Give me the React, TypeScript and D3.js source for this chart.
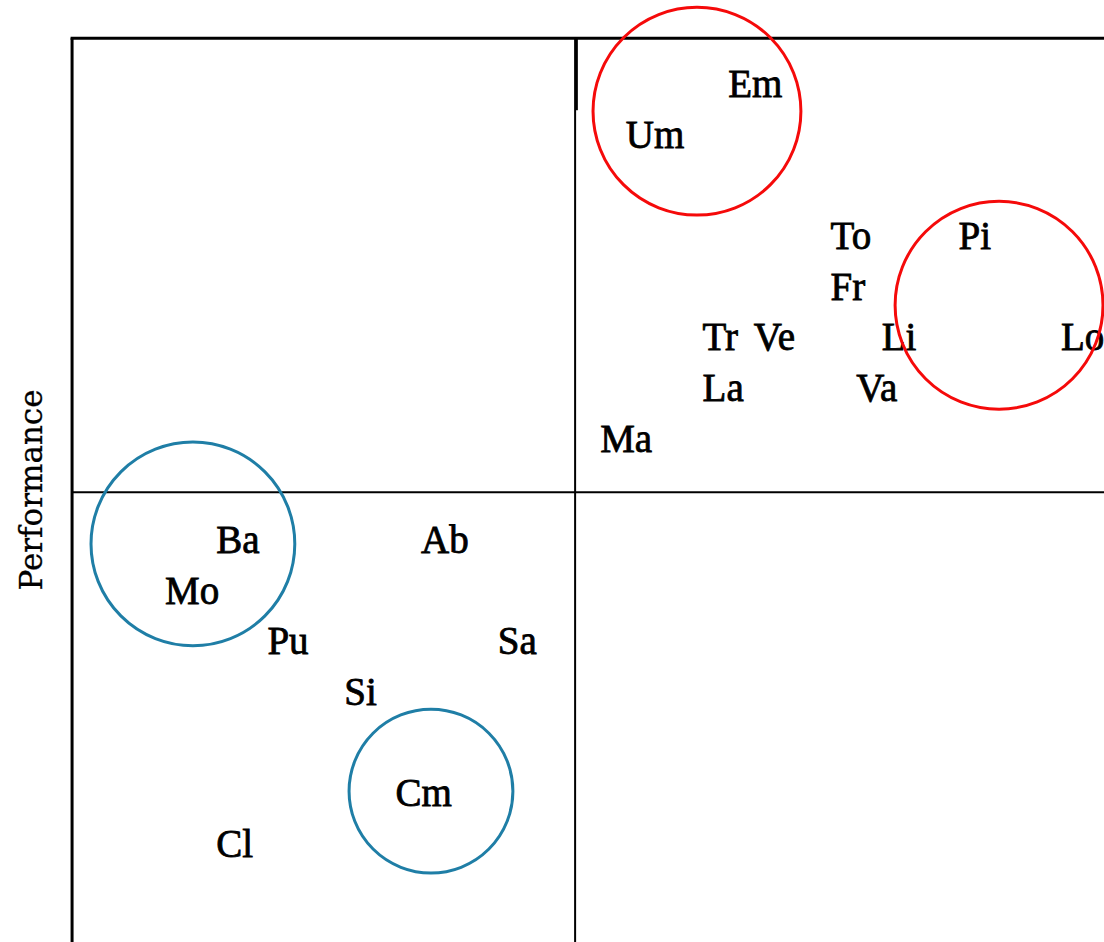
import React from "react";
import * as d3 from "d3";

// label positions: x = dimension score, y = performance score
const labels = ["Em", "Um", "To", "Pi", "Fr", "Tr", "Ve", "Li", "Lo", "La", "Va", "Ma",
  "Ba", "Ab", "Mo", "Pu", "Sa", "Si", "Cm", "Cl"];
const xValues = [22, 18, 26, 31, 26, 21, 23, 28, 35, 21, 27, 17,
  2, 10, 0, 4, 13, 7, 9, 2];
const perfValues = [15, 14, 12, 12, 11, 10, 10, 10, 10, 9, 9, 8,
  6, 6, 5, 4, 4, 3, 1, 0];

// highlighted groups (centre in data units, radius in x units)
const groupX = [20.78, 32.58, 1.09, 10.39];
const groupY = [14.72, 10.89, 6.18, 1.3];
const groupR = [4.06, 4.06, 3.98, 3.2];
const groupKind = ["high", "high", "low", "low"];

// frame / quadrant split
const xMin = -3.63;
const xSplit = 16.02;
const yMax = 16.16;
const ySplit = 7.2;

const width = 1104;
const height = 942;

export default function App() {
  const x = d3.scaleLinear().domain([0, 35]).range([165, 1061]);
  const y = d3.scaleLinear().domain([0, 15]).range([857, 97]);
  const pxPerUnit = x(1) - x(0);
  const color = d3.scaleOrdinal<string, string>().domain(["high", "low"]).range(["#f50a0a", "#1f7ea6"]);

  const left = x(xMin);
  const top = y(yMax);
  const midX = x(xSplit);
  const midY = y(ySplit);

  return (
    <svg
      width={width}
      height={height}
      style={{ position: "absolute", left: 0, top: 0, background: "#fff" }}
    >
      {/* frame */}
      <g stroke="#000" fill="none">
        <line x1={left - 1.5} x2={width} y1={top} y2={top} strokeWidth={3} />
        <line x1={left} x2={left} y1={top} y2={height} strokeWidth={3} />
        <line x1={midX} x2={midX} y1={top} y2={height} strokeWidth={2} />
        <line x1={midX + 1.5} x2={midX + 1.5} y1={top} y2={top + 72} strokeWidth={2.5} />
        <line x1={left} x2={width} y1={midY} y2={midY} strokeWidth={2} />
      </g>

      <text
        transform={`translate(42,${490}) rotate(-90)`}
        textAnchor="middle"
        fontFamily="DejaVu Serif"
        fontSize={31}
        fill="#000"
        stroke="#000"
        strokeWidth={0.3}
      >
        Performance
      </text>

      <g fontFamily="Liberation Serif" fontSize={39} fill="#000" stroke="#000" strokeWidth={0.8}>
        {labels.map((l, i) => (
          <text key={l} x={x(xValues[i])} y={y(perfValues[i])}>
            {l}
          </text>
        ))}
      </g>

      <g fill="none" strokeWidth={3}>
        {groupX.map((gx, i) => (
          <circle
            key={i}
            cx={x(gx)}
            cy={y(groupY[i])}
            r={groupR[i] * pxPerUnit}
            stroke={color(groupKind[i])}
          />
        ))}
      </g>
    </svg>
  );
}
